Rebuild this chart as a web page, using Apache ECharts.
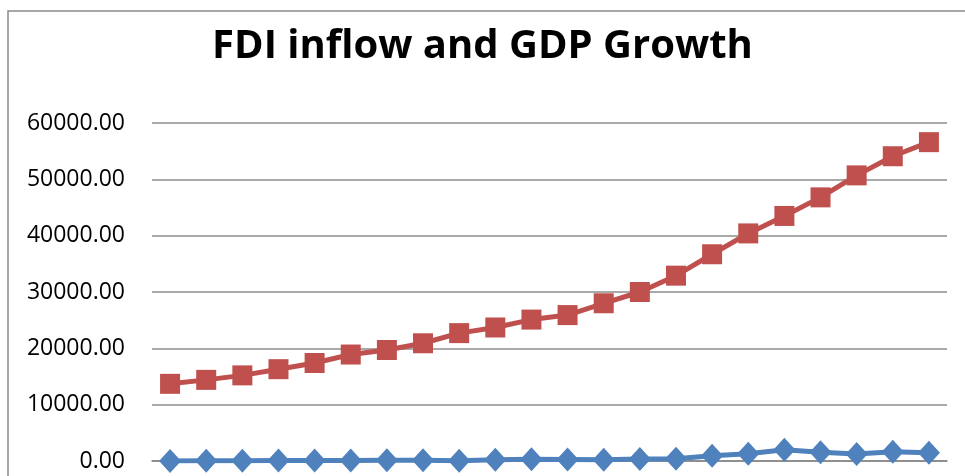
<!DOCTYPE html>
<html>
<head>
<meta charset="utf-8">
<script src="https://cdn.jsdelivr.net/npm/echarts@6/dist/echarts.min.js"></script>
<style>
  html, body { margin: 0; padding: 0; background: #fff; }
  #main { width: 965px; height: 476px; }
</style>
</head>
<body>
<div id="main"></div>
<script>
'use strict';
// categories (x labels are cut off in the picture, so only indexes)
var years = ['1','2','3','4','5','6','7','8','9','10','11','12','13','14','15','16','17','18','19','20','21','22'];
// GDP series (red squares)
var gdp = [13700, 14400, 15200, 16300, 17400, 18900, 19700, 20900, 22700, 23700, 25100,
           25900, 28000, 30000, 32900, 36700, 40400, 43500, 46800, 50700, 54100, 56600];
// FDI inflow series (blue diamonds)
var fdi = [20, 40, 60, 80, 90, 110, 130, 140, 60, 200, 300,
           260, 200, 350, 400, 950, 1300, 2000, 1550, 1250, 1650, 1450];
var yTicks = { min: 0, max: 60000, interval: 10000 };

var chart = echarts.init(document.getElementById('main'));
var option = {
  animation: false,
  backgroundColor: '#fff',
  title: {
    text: 'FDI inflow and GDP Growth',
    left: 'center',
    top: 22,
    textStyle: { fontFamily: 'Open Sans', fontWeight: 'bold', fontSize: 40, color: '#000' }
  },
  graphic: [
    // outer chart frame (only top and left edges fall inside the picture)
    { type: 'polyline', shape: { points: [[8, 480], [8, 11], [970, 11]] },
      style: { stroke: '#8a8a8a', lineWidth: 1.5, fill: null } }
  ],
  grid: { left: 152, right: 18, top: 123, bottom: 15 },
  xAxis: {
    type: 'category',
    data: years,
    boundaryGap: true,
    axisLine: { show: true, lineStyle: { color: '#868686', width: 1.5 } },
    axisTick: { show: false },
    axisLabel: { show: false }
  },
  yAxis: {
    type: 'value',
    min: yTicks.min,
    max: yTicks.max,
    interval: yTicks.interval,
    axisLine: { show: false },
    axisTick: { show: false },
    splitLine: { lineStyle: { color: '#8c8c8c', width: 1.5 } },
    axisLabel: {
      margin: 27,
      fontFamily: 'Open Sans',
      fontSize: 23,
      color: '#000',
      formatter: function (v) { return v.toFixed(2); }
    }
  },
  series: [
    {
      name: 'GDP',
      type: 'line',
      data: gdp,
      symbol: 'rect',
      symbolSize: 20,
      itemStyle: { color: '#C0504D' },
      lineStyle: { color: '#C0504D', width: 5 },
      z: 3
    },
    {
      name: 'FDI',
      type: 'line',
      data: fdi,
      symbol: 'diamond',
      symbolSize: [22, 24],
      itemStyle: { color: '#4F81BD' },
      lineStyle: { color: '#4F81BD', width: 5 },
      z: 4
    }
  ]
};
chart.setOption(option);
</script>
</body>
</html>
